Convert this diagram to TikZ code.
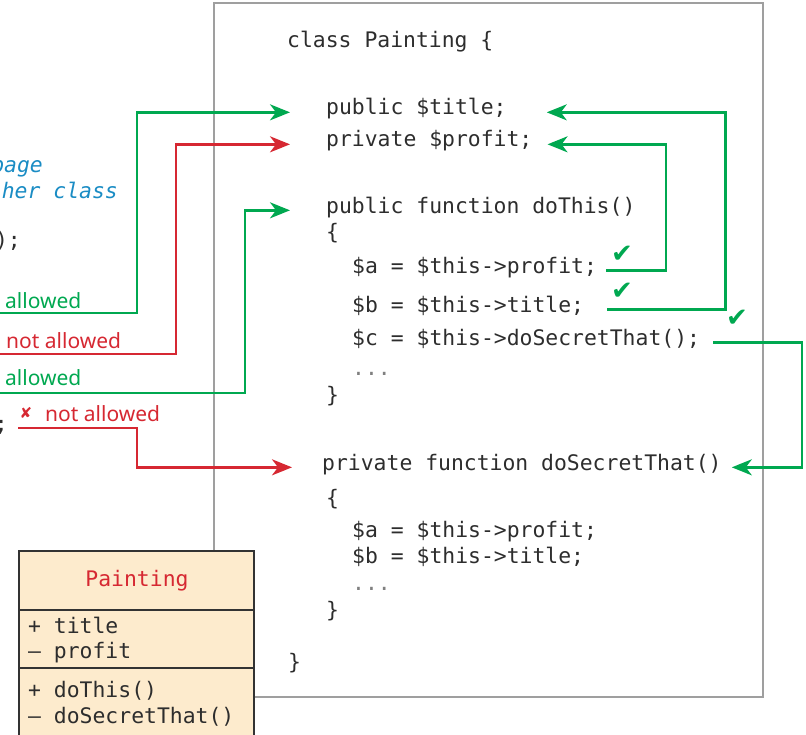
\documentclass[tikz,border=0pt]{standalone}
\usepackage{fontspec}
\setmainfont{Noto Sans}
\newfontfamily\codefont{DejaVu Sans Mono}
\newfontfamily\symfont{DejaVu Sans}
\usetikzlibrary{arrows.meta}
\definecolor{okgreen}{RGB}{0,168,80}
\definecolor{nored}{RGB}{214,40,50}
\definecolor{cmtblue}{RGB}{26,140,196}
\definecolor{codegray}{RGB}{45,45,45}
\definecolor{umlfill}{RGB}{253,235,205}
\tikzset{
	code/.style={anchor=base west,inner sep=0pt,text=codegray,font=\codefont\fontsize{21.4bp}{24bp}\selectfont},
	lbl/.style={anchor=base west,inner sep=0pt,font=\fontsize{21bp}{24bp}\selectfont},
	ok/.style={draw=okgreen,line width=2.4bp},
	no/.style={draw=nored,line width=2.4bp},
	tick/.style={inner sep=0pt,text=okgreen,font=\symfont\fontsize{26bp}{26bp}\selectfont},
}
\begin{document}
\begin{tikzpicture}[x=1bp,y=-1bp,line join=miter,>={Stealth[length=20bp,width=16bp,inset=6bp]}]
	\useasboundingbox (0,0) rectangle (806,735);
	\clip (0,0) rectangle (806,735);
	% frame of the class
	\draw[gray!75,line width=2bp] (214,3) rectangle (763,697);
	% the class code
	\node[code] (cls) at (287,48) {class Painting \{};
	\node[code] (ptitle) at (326,115) {public \$title;};
	\node[code] (pprofit) at (326,147) {private \$profit;};
	\node[code] (fdo) at (326,213) {public function doThis()};
	\node[code] (ob1) at (326,239) {\{};
	\node[code] (sa) at (352,273) {\$a = \$this->profit;};
	\node[code] (sb) at (352,312) {\$b = \$this->title;};
	\node[code] (sc) at (352,345) {\$c = \$this->doSecretThat();};
	\node[code,text=gray] (dots1) at (352,375) {...};
	\node[code] (cb1) at (326,402) {\}};
	\node[code] (fsecret) at (322,470) {private function doSecretThat()};
	\node[code] (ob2) at (326,505) {\{};
	\node[code] (sa2) at (352,537) {\$a = \$this->profit;};
	\node[code] (sb2) at (352,563) {\$b = \$this->title;};
	\node[code,text=gray] (dots2) at (352,590) {...};
	\node[code] (cb2) at (326,617) {\}};
	\node[code] (cbend) at (288,669) {\}};
	% outside code, cut at the left edge
	\node[code,anchor=base east,text=cmtblue,font=\codefont\itshape\fontsize{21.4bp}{24bp}\selectfont] (cm1) at (43,172) {page};
	\node[code,anchor=base east,text=cmtblue,font=\codefont\itshape\fontsize{21.4bp}{24bp}\selectfont] (cm2) at (118,198) {her class};
	\node[code,anchor=base east] (call1) at (21,247) {);};
	\node[code,anchor=base east] (call2) at (8,431) {;};
	% labels
	\node[lbl,text=okgreen] (okA) at (5,308) {allowed};
	\node[lbl,text=nored] (noA) at (6,348) {not allowed};
	\node[lbl,text=okgreen] (okB) at (5,385) {allowed};
	\node[lbl,text=nored] (noB) at (45,421) {not allowed};
	\node[inner sep=0pt,text=nored,font=\symfont\fontsize{15bp}{15bp}\selectfont] (xB) at (26,413) {✘};
	% access from outside
	\coordinate (inA) at (0,313);
	\coordinate (inB) at (0,354);
	\coordinate (inC) at (0,393);
	\coordinate (inD) at (18,428);
	\draw[ok,->] (inA) -- ++(137,0) |- ([xshift=-36bp]ptitle.mid west);
	\draw[no,->] (inB) -- ++(176,0) |- ([xshift=-36bp]pprofit.mid west);
	\draw[ok,->] (inC) -- ++(245,0) |- ([xshift=-36bp]fdo.mid west);
	\draw[no,->] (inD) -- ++(119,0) |- ([xshift=-30bp]fsecret.mid west);
	% access from inside
	\draw[ok,->] ([xshift=9bp]sa.mid east) -- ++(60,0) |- ([xshift=15bp]pprofit.mid east);
	\draw[ok,->] ([xshift=23bp]sb.mid east) -- ++(118,0) |- ([xshift=40bp]ptitle.mid east);
	\draw[ok,->] ([xshift=13bp]sc.mid east) -- ++(89,0) |- ([xshift=10bp]fsecret.mid east);
	\node[tick] (ck1) at (622,254) {✔};
	\node[tick] (ck2) at (622,291) {✔};
	\node[tick] (ck3) at (737,318) {✔};
	% uml box
	\draw[draw=black!80,fill=umlfill,line width=2bp] (19,551) rectangle (254,760);
	\draw[black!80,line width=2bp] (19,610) -- (254,610) (19,668) -- (254,668);
	\node[code,anchor=base,text=nored] (umlname) at (137,586) {Painting};
	\node[code] (uat1) at (28,633) {+ title};
	\node[code] (uat2) at (28,658) {– profit};
	\node[code] (ume1) at (28,697) {+ doThis()};
	\node[code] (ume2) at (28,723) {– doSecretThat()};
\end{tikzpicture}
\end{document}
